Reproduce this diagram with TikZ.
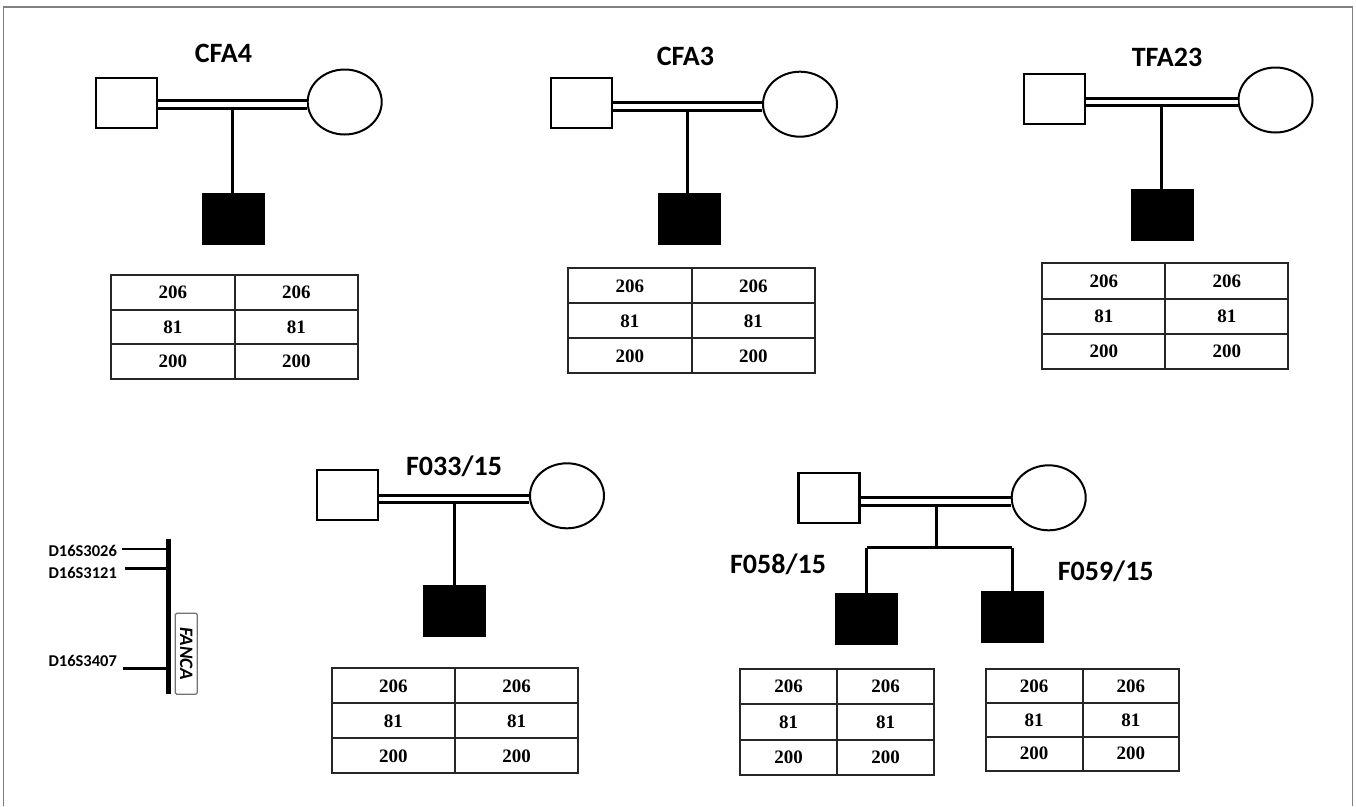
\documentclass[tikz,border=0pt]{standalone}
\usepackage{fontspec}
\setmainfont{Liberation Serif}
\newfontfamily\calib{Carlito}
\usetikzlibrary{shapes.geometric}
\tikzset{
  male/.style={draw, line width=2.2pt, fill=white, minimum width=61, minimum height=50, inner sep=0},
  female/.style={ellipse, draw, line width=2pt, fill=white, minimum width=74, minimum height=65, inner sep=0},
  affected/.style={draw, line width=1pt, fill=black, minimum width=62, minimum height=51, inner sep=0},
  conn/.style={line width=3pt},
  marriage/.style={line width=3pt, double=white, double distance=4.6pt},
  ttl/.style={font=\calib\bfseries\fontsize{28}{30}\selectfont, anchor=base, inner sep=0},
  mlab/.style={font=\calib\bfseries\fontsize{16.5}{18}\selectfont, anchor=base west, inner sep=0},
  cell/.style={draw=black!85, line width=2pt, inner sep=0, outer sep=0, font=\bfseries\fontsize{19}{21}\selectfont},
  frame/.style={draw=black!50, line width=1.5pt}
}
\newcommand\gtab[5]{%
  \foreach \r/\v in {1/206,2/81,3/200}{%
    \foreach \c in {1,2}{%
      \node[cell, minimum width=#4, minimum height=#5] (#1-\r-\c) at ({#2+(\c-0.5)*#4},{#3+(\r-0.5)*#5}) {\v};
    }}}
\newcommand\pedig[9]{%
  \node[male] (#1f) at (#2,#3) {};
  \node[female] (#1m) at (#4,#5) {};
  \node[affected] (#1c) at (#8,#9) {};
  \coordinate (#1l) at (#7,#6);
  \draw[conn] (#1l) -- (#1l |- #1c.north);
  \draw[marriage] (#1f.east |- #1l) -- (#1l -| #1m.west);
}
\begin{document}
\begin{tikzpicture}[x=1pt,y=-1pt]
\useasboundingbox (0,0) rectangle (1356,806);
% frame
\coordinate (fr1) at (3.5,806);
\coordinate (fr2) at (3.5,7);
\coordinate (fr3) at (1352.5,7);
\coordinate (fr4) at (1352.5,806);
\draw[frame] (fr1) -- (fr2) -- (fr3) -- (fr4);

% pedigree 1
\pedig{pa}{126.5}{103.2}{344.7}{102}{104.5}{232.5}{233}{218.7}
\node[ttl] (ta) at (223.5,62) {CFA4};
\gtab{ga}{111}{275}{123.5}{34.67}

% pedigree 2
\pedig{pb}{581.3}{103.3}{800}{104.2}{106.3}{687.7}{689.2}{218.7}
\node[ttl] (tb) at (685.5,65) {CFA3};
\gtab{gb}{568}{268.3}{123.65}{35}

% pedigree 3
\pedig{pc}{1054.5}{99.2}{1275.5}{100}{102}{1161}{1162.9}{214.5}
\node[ttl] (tc) at (1167,66.7) {TFA23};
\gtab{gc}{1042.3}{263.3}{123}{35.33}

% pedigree 4
\pedig{pd}{347.7}{495}{567}{495.8}{498.8}{454}{454.3}{610.5}
\node[ttl] (td) at (454,475) {F033/15};
\gtab{gd}{331.7}{668.3}{123.3}{35}

% pedigree 5
\node[male] (pef) at (829,497.7) {};
\node[female] (pem) at (1048.7,497.8) {};
\node[affected] (pea) at (866.5,619) {};
\node[affected] (peb) at (1012.2,617.2) {};
\coordinate (pel) at (936.7,501.3);
\coordinate (pes) at (936.7,547.7);
\draw[conn] (pel) -- (pes);
\draw[conn] (pea.north |- pes) -- (peb.north |- pes);
\draw[conn] (pea.north |- pes) -- (pea.north);
\draw[conn] (peb.north |- pes) -- (peb.north);
\draw[marriage] (pef.east |- pel) -- (pel -| pem.west);
\node[ttl] (tea) at (778,573.3) {F058/15};
\node[ttl] (teb) at (1105.7,580) {F059/15};
\gtab{gea}{740}{669}{97.15}{35.33}
\gtab{geb}{985.7}{669}{96.8}{33.9}

% chromosome
\coordinate (bt) at (168.7,539);
\coordinate (bb) at (168.7,694);
\draw[line width=5.5pt] (bt) -- (bb);
\coordinate (k1) at (121.7,549);
\coordinate (k2) at (125,568.3);
\coordinate (k3) at (123.3,668.3);
\draw[line width=2.5pt] (k1) -- (k1 -| bt);
\draw[line width=2.5pt] (k2) -- (k2 -| bt);
\draw[line width=2.5pt] (k3) -- (k3 -| bt);
\node[mlab] (l1) at (48.3,556.7) {D16S3026};
\node[mlab] (l2) at (48.3,578.3) {D16S3121};
\node[mlab] (l3) at (48.3,666.7) {D16S3407};
\node[draw=black!55, line width=1.2pt, rounded corners=1.5pt, rotate=-90, minimum width=81, minimum height=22, inner sep=0, font=\calib\bfseries\itshape\fontsize{19}{19}\selectfont] (fanca) at (186.2,653.7) {FANCA};
\end{tikzpicture}
\end{document}
